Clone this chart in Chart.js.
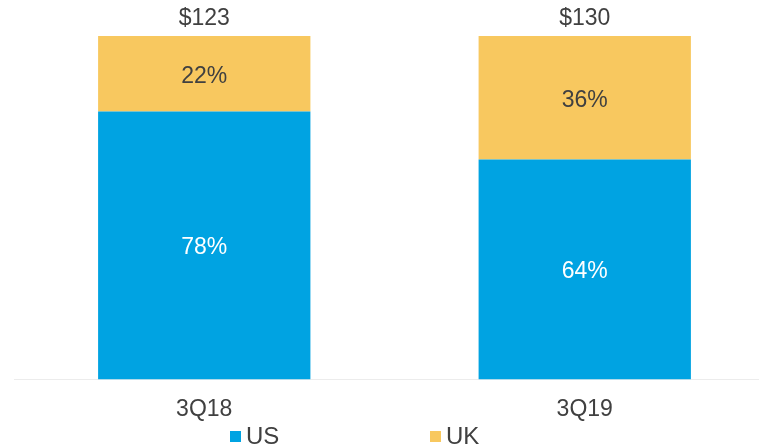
<!DOCTYPE html>
<html>
<head>
<meta charset="utf-8">
<script src="https://cdn.jsdelivr.net/npm/chart.js@4/dist/chart.umd.min.js"></script>
<style>
  html, body { margin: 0; padding: 0; background: #ffffff; overflow: hidden; }
  #wrap { position: relative; width: 775px; height: 446px; }
</style>
</head>
<body>
<div id="wrap"><canvas id="c"></canvas></div>
<script>
const categories = ['3Q18', '3Q19'];
const usShare = [78, 64];
const ukShare = [22, 36];
const totals = [123, 130];
const seriesNames = ['US', 'UK'];

const BLUE = '#00A3E2';
const YELLOW = '#F8C85F';
const DARK = '#404040';
const FONT = '"Liberation Sans", Arial, sans-serif';

const labelsPlugin = {
  id: 'segLabels',
  afterDatasetsDraw(chart) {
    const ctx = chart.ctx;
    ctx.save();
    ctx.font = '23px ' + FONT;
    ctx.textAlign = 'center';
    ctx.textBaseline = 'middle';
    chart.data.datasets.forEach((ds, di) => {
      const meta = chart.getDatasetMeta(di);
      meta.data.forEach((bar, i) => {
        const p = bar.getProps(['x', 'y', 'base'], true);
        ctx.fillStyle = di === 0 ? '#ffffff' : DARK;
        ctx.fillText(ds.data[i] + '%', p.x, (p.y + p.base) / 2 + 2.5);
      });
    });
    // totals above the bars
    const topMeta = chart.getDatasetMeta(chart.data.datasets.length - 1);
    topMeta.data.forEach((bar, i) => {
      const p = bar.getProps(['x', 'y'], true);
      ctx.fillStyle = DARK;
      ctx.fillText('$' + totals[i], p.x, p.y - 17);
    });
    // legend
    const ly = 436.5;
    const startX = 230;
    const step = 200;
    ctx.textAlign = 'left';
    ctx.font = '24px ' + FONT;
    chart.data.datasets.forEach((ds, di) => {
      const x = startX + di * step;
      ctx.fillStyle = ds.backgroundColor;
      ctx.fillRect(x, ly - 5.5, 11, 11);
      ctx.fillStyle = DARK;
      ctx.fillText(ds.label, x + 16, ly + 1);
    });
    ctx.restore();
  }
};

new Chart(document.getElementById('c'), {
  type: 'bar',
  data: {
    labels: categories,
    datasets: [
      { label: seriesNames[0], data: usShare, backgroundColor: BLUE, barPercentage: 0.558, categoryPercentage: 1 },
      { label: seriesNames[1], data: ukShare, backgroundColor: YELLOW, barPercentage: 0.558, categoryPercentage: 1 }
    ]
  },
  options: {
    responsive: true,
    maintainAspectRatio: false,
    animation: false,
    layout: { padding: { left: 14, top: 36, right: 0, bottom: 7 } },
    plugins: {
      legend: { display: false },
      tooltip: { enabled: false }
    },
    scales: {
      x: {
        stacked: true,
        grid: { display: false, drawTicks: false },
        border: { display: true, color: '#ececec', width: 1 },
        ticks: { color: DARK, font: { family: FONT, size: 23 }, padding: 16 }
      },
      y: {
        stacked: true,
        display: false,
        min: 0,
        max: 100
      }
    }
  },
  plugins: [labelsPlugin]
});
</script>
</body>
</html>
